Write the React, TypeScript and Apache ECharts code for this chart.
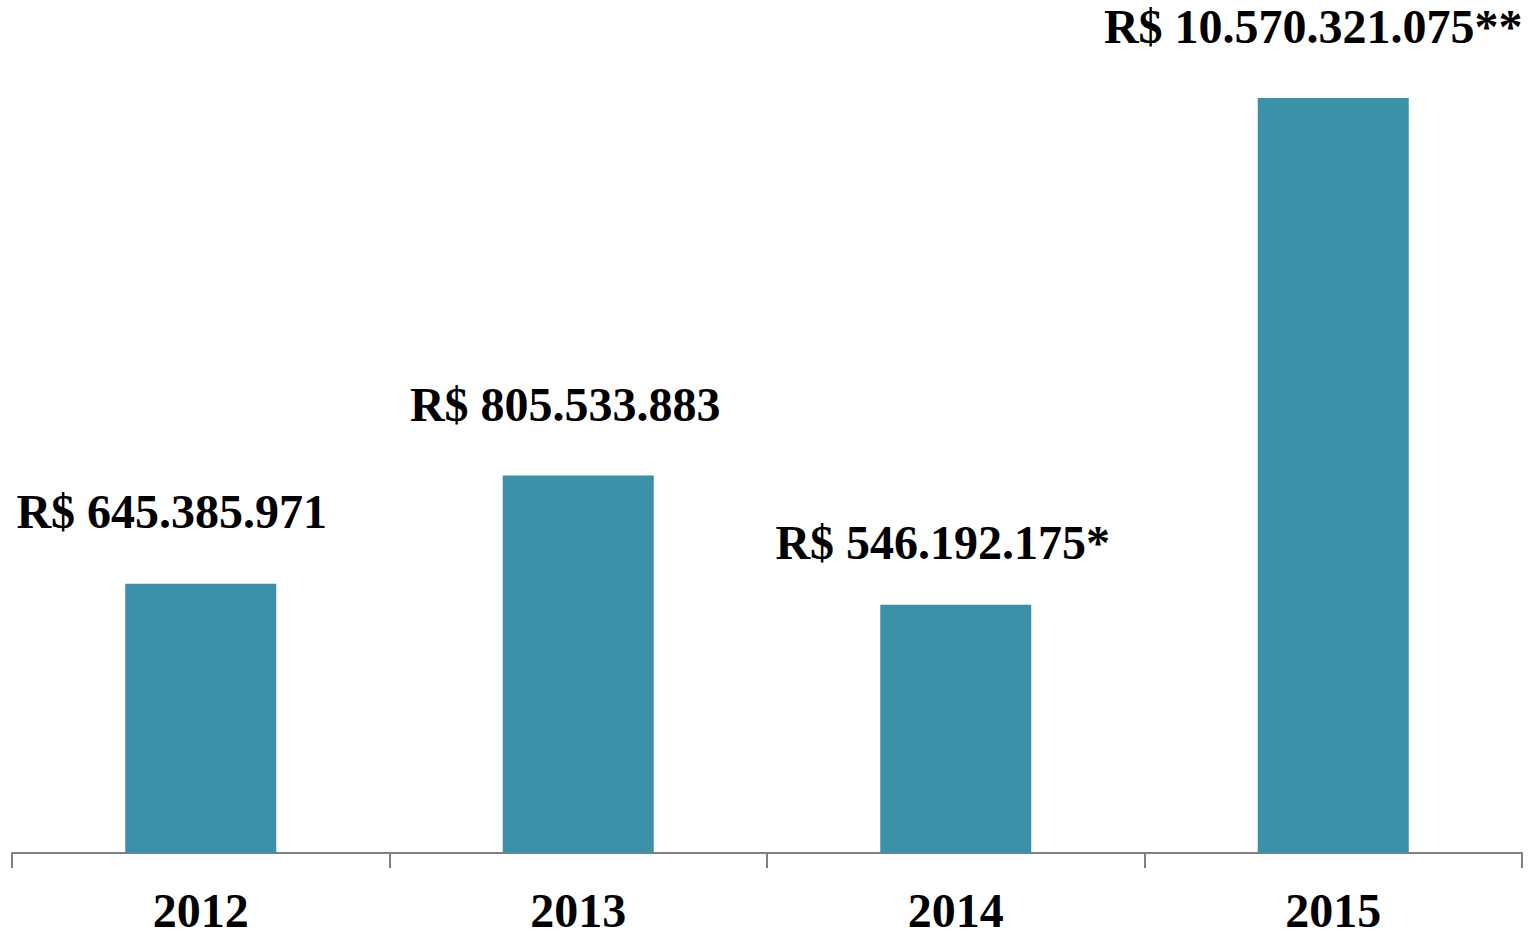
import React, { useEffect, useRef } from "react";
import * as echarts from "echarts";

const categories = ["2012", "2013", "2014", "2015"];
// bar heights as drawn in the (not to scale) original chart, arbitrary units
const barHeights = [269, 377, 248, 754];
const valueLabels = [
  "R$ 645.385.971",
  "R$ 805.533.883",
  "R$ 546.192.175*",
  "R$ 10.570.321.075**",
];
const labelOffsetX = [-29, -13, -13, -20];
const labelDistance = [48, 47, 38, 48];

export default function App() {
  const ref = useRef<HTMLDivElement>(null);
  useEffect(() => {
    if (!ref.current) return;
    const chart = echarts.init(ref.current, null, { renderer: "svg" });
    const font = "'Liberation Serif', 'Times New Roman', serif";
    chart.setOption({
      animation: false,
      grid: { left: 12, right: 10, top: 98, bottom: 83, containLabel: false },
      xAxis: {
        type: "category",
        data: categories,
        boundaryGap: true,
        axisLine: { show: true, lineStyle: { color: "#808080", width: 2 } },
        axisTick: { show: true, length: 15, lineStyle: { color: "#808080", width: 2 } },
        axisLabel: {
          color: "#000",
          fontFamily: font,
          fontWeight: "bold",
          fontSize: 48,
          lineHeight: 40,
          margin: 37,
        },
      },
      yAxis: {
        type: "value",
        min: 0,
        max: 754,
        show: false,
        splitLine: { show: false },
      },
      series: [
        {
          type: "bar",
          barWidth: "40%",
          itemStyle: { color: "#3A91A8" },
          data: barHeights.map((v, i) => ({
            value: v,
            label: {
              show: true,
              position: "top",
              distance: labelDistance[i],
              offset: [labelOffsetX[i], 0],
              formatter: () => valueLabels[i],
              color: "#000",
              fontFamily: font,
              fontWeight: "bold",
              fontSize: 48,
            },
          })),
        },
      ],
    });
    return () => chart.dispose();
  }, []);
  return <div ref={ref} style={{ width: 1532, height: 936, position: "absolute", left: 0, top: 0 }} />;
}
